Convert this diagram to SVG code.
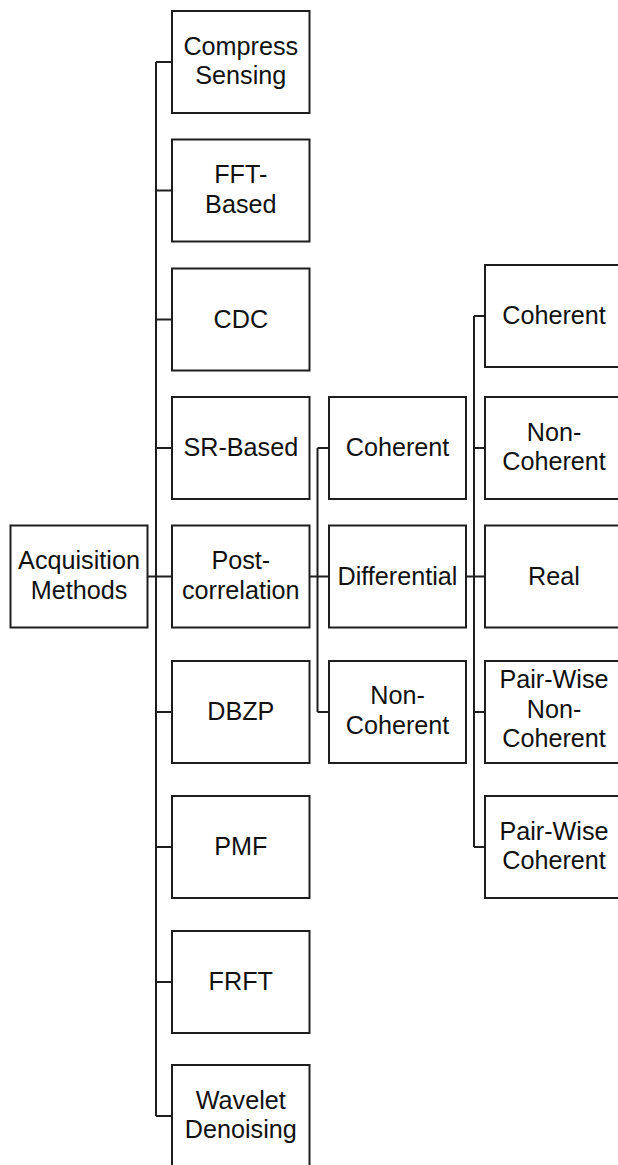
<svg xmlns="http://www.w3.org/2000/svg" width="618" height="1165" viewBox="0 0 618 1165">
<style>
.box{fill:#fff;stroke:#1e1e1e;stroke-width:2}
.ln{fill:none;stroke:#1e1e1e;stroke-width:2}
text{font-family:"Liberation Sans",Arial,sans-serif;font-size:25.2px;fill:#111;text-anchor:middle}
</style>
<rect width="618" height="1165" fill="#fff"/>
<g id="connectors">
<path class="ln" d="M156,62 V1116 M156,62 H172 M156,190.5 H172 M156,319.5 H172 M156,448 H172 M156,576.5 H172 M156,712 H172 M156,847 H172 M156,982 H172 M156,1116 H172 M148,576.5 H156"/>
<path class="ln" d="M309.5,576.5 H317.5 M317.5,448 V712 M317.5,448 H329 M317.5,576.5 H329 M317.5,712 H329"/>
<path class="ln" d="M466,576.5 H474 M474,316 V847 M474,316 H485 M474,448 H485 M474,576.5 H485 M474,712 H485 M474,847 H485"/>
</g>
<g id="acquisition"><rect class="box" x="10.5" y="525.5" width="137" height="102"/><text x="79" y="569">Acquisition</text><text x="79" y="598.5">Methods</text></g>
<g id="compress"><rect class="box" x="172" y="11" width="137.5" height="102"/><text x="240.8" y="54.5">Compress</text><text x="240.8" y="84">Sensing</text></g>
<g id="fft"><rect class="box" x="172" y="139.5" width="137.5" height="102"/><text x="240.8" y="183">FFT-</text><text x="240.8" y="212.5">Based</text></g>
<g id="cdc"><rect class="box" x="172" y="268.5" width="137.5" height="102"/><text x="240.8" y="327.5">CDC</text></g>
<g id="sr"><rect class="box" x="172" y="397" width="137.5" height="102"/><text x="240.8" y="456">SR-Based</text></g>
<g id="post"><rect class="box" x="172" y="525.5" width="137.5" height="102"/><text x="240.8" y="569">Post-</text><text x="240.8" y="598.5">correlation</text></g>
<g id="dbzp"><rect class="box" x="172" y="661" width="137.5" height="102"/><text x="240.8" y="720">DBZP</text></g>
<g id="pmf"><rect class="box" x="172" y="796" width="137.5" height="102"/><text x="240.8" y="855">PMF</text></g>
<g id="frft"><rect class="box" x="172" y="931" width="137.5" height="102"/><text x="240.8" y="990">FRFT</text></g>
<g id="wavelet"><rect class="box" x="172" y="1065" width="137.5" height="110"/><text x="240.8" y="1108.5">Wavelet</text><text x="240.8" y="1138">Denoising</text></g>
<g id="pc-coherent"><rect class="box" x="329" y="397" width="137" height="102"/><text x="397.5" y="456">Coherent</text></g>
<g id="pc-differential"><rect class="box" x="329" y="525.5" width="137" height="102"/><text x="397.5" y="584.5">Differential</text></g>
<g id="pc-noncoherent"><rect class="box" x="329" y="661" width="137" height="102"/><text x="397.5" y="704">Non-</text><text x="397.5" y="733.5">Coherent</text></g>
<g id="d-coherent"><rect class="box" x="485" y="265" width="140" height="102"/><text x="554" y="324">Coherent</text></g>
<g id="d-noncoherent"><rect class="box" x="485" y="397" width="140" height="102"/><text x="554" y="440.5">Non-</text><text x="554" y="470">Coherent</text></g>
<g id="d-real"><rect class="box" x="485" y="525.5" width="140" height="102"/><text x="554" y="584.5">Real</text></g>
<g id="d-pwnc"><rect class="box" x="485" y="661" width="140" height="102"/><text x="554" y="688">Pair-Wise</text><text x="554" y="717.5">Non-</text><text x="554" y="747">Coherent</text></g>
<g id="d-pwc"><rect class="box" x="485" y="796" width="140" height="102"/><text x="554" y="839.5">Pair-Wise</text><text x="554" y="869">Coherent</text></g>
</svg>
